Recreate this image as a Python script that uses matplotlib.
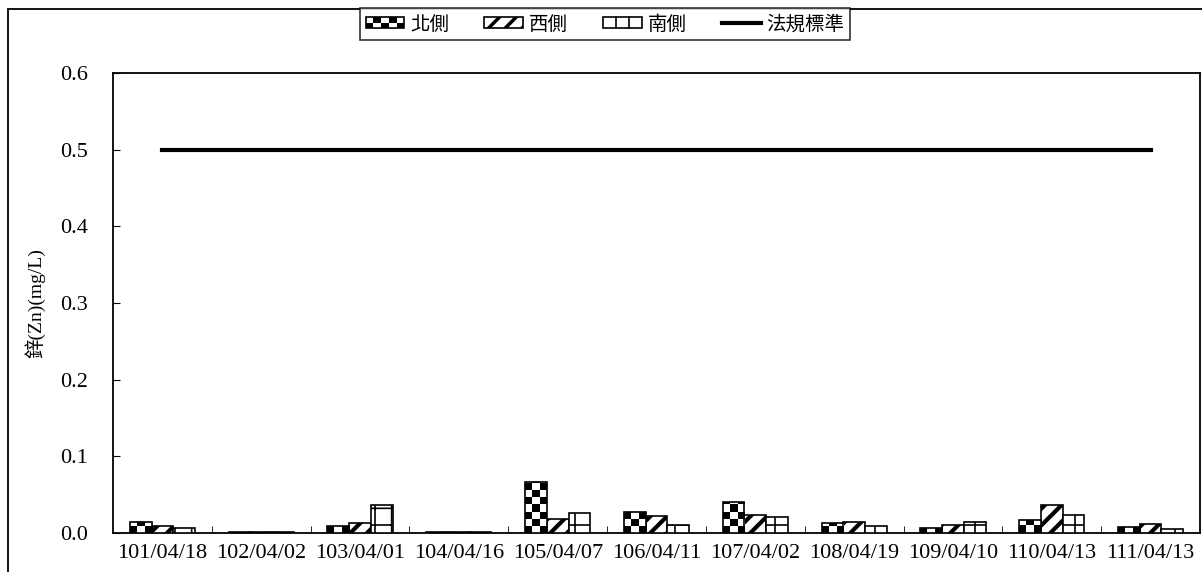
import numpy as np
import matplotlib.pyplot as plt
from matplotlib.patches import Rectangle
from matplotlib.lines import Line2D
from matplotlib.legend_handler import HandlerBase

# data
dates = ["101/04/18", "102/04/02", "103/04/01", "104/04/16", "105/04/07", "106/04/11",
         "107/04/02", "108/04/19", "109/04/10", "110/04/13", "111/04/13"]
north = [0.014, 0.001, 0.009, 0.001, 0.067, 0.028, 0.040, 0.013, 0.006, 0.017, 0.008]
west = [0.009, 0.001, 0.013, 0.001, 0.018, 0.022, 0.023, 0.014, 0.011, 0.037, 0.012]
south = [0.006, 0.001, 0.036, 0.001, 0.026, 0.011, 0.021, 0.009, 0.014, 0.024, 0.005]
standard = 0.5
names = ["北側", "西側", "南側", "法規標準"]

serif = ['Liberation Serif', 'Noto Sans CJK TC']
cjk = ['Noto Sans CJK TC', 'DejaVu Sans']

fig = plt.figure(figsize=(12.02, 5.72), dpi=100)
ax = fig.add_axes([113/1202, 1-533/572, 1087/1202, 460/572])

# outer frame of the picture (cut on right and bottom)
fig.patches.append(Rectangle((8/1202, -0.1), 1.2, 1.1 - 9/572, transform=fig.transFigure,
                             fill=False, edgecolor='black', linewidth=1.3))

x = np.arange(len(dates))
w = 0.22
bn = ax.bar(x - w, north, w, fill=False, edgecolor='black', linewidth=1.2, zorder=3.2)
plt.rcParams['hatch.linewidth'] = 3.0
bw = ax.bar(x, west, w, facecolor='white', edgecolor='black', hatch='//', linewidth=1.2, zorder=3)
plt.rcParams['hatch.linewidth'] = 1.2
bs = ax.bar(x + w, south, w, facecolor='white', edgecolor='black', hatch='+', linewidth=1.2, zorder=3)

# checker texture for north bars
sq = 0.0092
for b in bn:
    h = b.get_height()
    rows = int(np.ceil(h / sq)) + 1
    ii, jj = np.indices((rows, 3))
    chk = (ii + jj) % 2
    im = ax.imshow(chk, extent=(b.get_x(), b.get_x() + b.get_width(), 0, rows * sq),
                   origin='lower', cmap='gray', interpolation='nearest', aspect='auto', zorder=3.1)
    clip = Rectangle((b.get_x(), 0), b.get_width(), h, transform=ax.transData)
    im.set_clip_path(clip)

ax.plot([x[0], x[-1]], [standard, standard], color='black', linewidth=3, zorder=4)

ax.set_xlim(-0.5, len(dates) - 0.5)
ax.set_ylim(0, 0.6)
ax.set_aspect('auto')
ax.set_yticks(np.arange(0, 0.61, 0.1))
ax.set_yticklabels(["%.1f" % v for v in np.arange(0, 0.61, 0.1)], family=serif, fontsize=16)
ax.set_xticks(x)
ax.set_xticklabels(dates, family=serif, fontsize=16)
ax.set_xticks(x[:-1] + 0.5, minor=True)
ax.tick_params(axis='x', which='major', length=0, pad=8)
ax.tick_params(axis='x', which='minor', direction='in', length=5)
ax.tick_params(axis='y', direction='in', length=5, pad=18)
for s in ax.spines.values():
    s.set_linewidth(1.3)

fig.text(35/1202, 1-303/572, "鋅(Zn)(mg/L)", rotation=90, ha='center', va='center',
         family=serif, fontsize=14)


# legend swatches
class CheckerHandler(HandlerBase):
    def create_artists(self, legend, orig, xd, yd, width, height, fontsize, trans):
        arts = [Rectangle((-xd, -yd), width, height, facecolor='white', edgecolor='black',
                          linewidth=1.2, transform=trans)]
        nc, nr = 5, 2
        for i in range(nr):
            for j in range(nc):
                if (i + j) % 2 == 0:
                    arts.append(Rectangle((-xd + j * width / nc, -yd + i * height / nr),
                                          width / nc, height / nr, facecolor='black',
                                          edgecolor='none', transform=trans))
        return arts


class StripeHandler(HandlerBase):
    def create_artists(self, legend, orig, xd, yd, width, height, fontsize, trans):
        with plt.rc_context({'hatch.linewidth': 2.5}):
            r = Rectangle((-xd, -yd), width, height, facecolor='white', edgecolor='black',
                          hatch='//', linewidth=1.2, transform=trans)
        return [r]


class CellHandler(HandlerBase):
    def create_artists(self, legend, orig, xd, yd, width, height, fontsize, trans):
        arts = [Rectangle((-xd, -yd), width, height, facecolor='white', edgecolor='black',
                          linewidth=1.2, transform=trans)]
        for k in (1, 2):
            arts.append(Line2D([-xd + k * width / 3] * 2, [-yd, -yd + height], color='black',
                               linewidth=1.2, transform=trans))
        return arts


handles = [Rectangle((0, 0), 1, 1), Rectangle((0, 0), 1, 1), Rectangle((0, 0), 1, 1),
           Line2D([], [], color='black', linewidth=3)]
leg = fig.legend(handles, names, loc='center', bbox_to_anchor=(605/1202, 1-24/572),
                 ncol=4, frameon=True, fancybox=False, edgecolor='black',
                 prop={'family': cjk, 'size': 14}, handlelength=2.0, handletextpad=0.3,
                 columnspacing=1.8, borderpad=0.3, handleheight=0.55,
                 handler_map={handles[0]: CheckerHandler(), handles[1]: StripeHandler(),
                              handles[2]: CellHandler()})
leg.get_frame().set_linewidth(1.2)

fig.savefig("out.png", dpi=100)
